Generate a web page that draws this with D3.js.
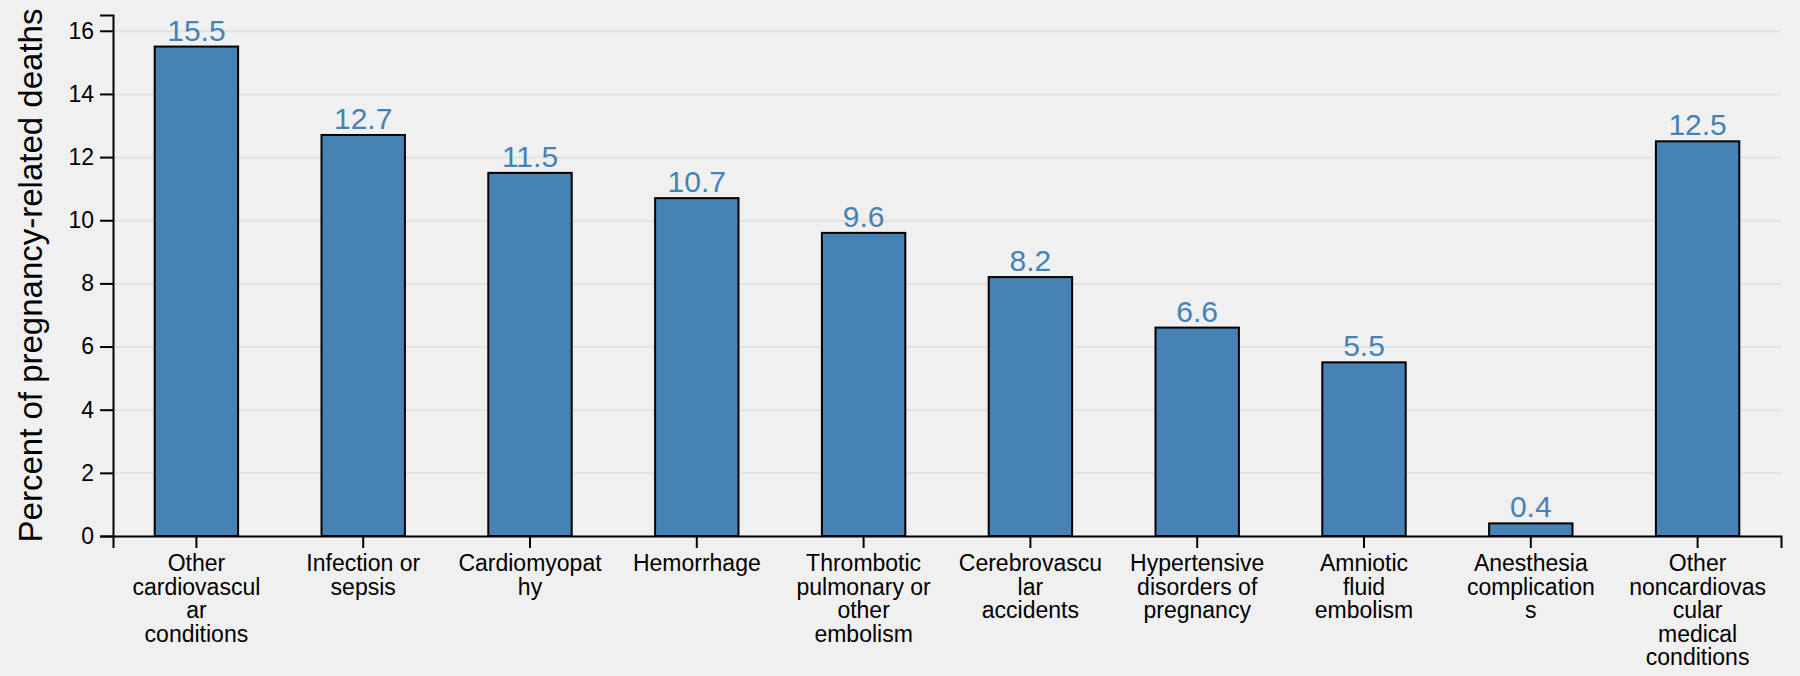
<!DOCTYPE html>
<html>
<head>
<meta charset="utf-8">
<script src="https://cdn.jsdelivr.net/npm/d3@7"></script>
<style>
  html, body { margin: 0; padding: 0; background: #f0f0f0; }
  svg { display: block; font-family: "Liberation Sans", Arial, Helvetica, sans-serif; }
  .grid line { stroke: #e2e2e2; stroke-width: 2; }
  .grid .domain { display: none; }
  .axis path, .axis line { stroke: #000; stroke-width: 2; }
  .axis text { fill: #000; font-size: 23px; }
  .bar { fill: steelblue; stroke: #000; stroke-width: 2; }
  .label { fill: steelblue; font-size: 30px; text-anchor: middle; }
</style>
</head>
<body>
<svg id="chart" width="1800" height="676"></svg>
<script>
// data
var categories = [
  "Other cardiovascular conditions",
  "Infection or sepsis",
  "Cardiomyopathy",
  "Hemorrhage",
  "Thrombotic pulmonary or other embolism",
  "Cerebrovascular accidents",
  "Hypertensive disorders of pregnancy",
  "Amniotic fluid embolism",
  "Anesthesia complications",
  "Other noncardiovascular medical conditions"
];
var values = [15.5, 12.7, 11.5, 10.7, 9.6, 8.2, 6.6, 5.5, 0.4, 12.5];
// tick labels as they were wrapped in the original
var tickLines = [
  ["Other", "cardiovascul", "ar", "conditions"],
  ["Infection or", "sepsis"],
  ["Cardiomyopat", "hy"],
  ["Hemorrhage"],
  ["Thrombotic", "pulmonary or", "other", "embolism"],
  ["Cerebrovascu", "lar", "accidents"],
  ["Hypertensive", "disorders of", "pregnancy"],
  ["Amniotic", "fluid", "embolism"],
  ["Anesthesia", "complication", "s"],
  ["Other", "noncardiovas", "cular", "medical", "conditions"]
];
var yTicks = [0, 2, 4, 6, 8, 10, 12, 14, 16];
var yMax = 16.5;
var yLabel = "Percent of pregnancy-related deaths";

var margins = {top: 15, right: 19, bottom: 140, left: 113};
var svg = d3.select("#chart");
var width = +svg.attr("width") - margins.left - margins.right,
    height = +svg.attr("height") - margins.top - margins.bottom;

var x = d3.scaleBand().domain(categories).range([0, width]).paddingInner(0.5).paddingOuter(0.25),
    y = d3.scaleLinear().domain([0, yMax]).range([height, 0]);

var g = svg.append("g")
    .attr("transform", "translate(" + margins.left + "," + margins.top + ")");

// horizontal gridlines
g.append("g")
    .attr("class", "grid")
    .call(d3.axisLeft(y).tickValues(yTicks).tickSize(-width).tickFormat(""));

g.selectAll(".bar")
  .data(values)
  .enter().append("rect")
    .attr("class", "bar")
    .attr("x", function(d, i) { return x(categories[i]); })
    .attr("y", function(d) { return y(d); })
    .attr("width", x.bandwidth())
    .attr("height", function(d) { return height - y(d); });

g.selectAll(".label")
  .data(values)
  .enter().append("text")
    .attr("class", "label")
    .attr("x", function(d, i) { return x(categories[i]) + x.bandwidth() / 2; })
    .attr("y", function(d) { return y(d) - 6; })
    .text(function(d) { return d3.format(".1f")(d); });

var xAxis = g.append("g")
    .attr("class", "axis axis--x")
    .attr("transform", "translate(0," + height + ")")
    .call(d3.axisBottom(x).tickSize(12).tickPadding(7));

xAxis.selectAll(".tick text").each(function(d) {
  var text = d3.select(this),
      lines = tickLines[categories.indexOf(d)],
      dy = parseFloat(text.attr("dy"));
  text.text(null);
  lines.forEach(function(line, i) {
    text.append("tspan")
        .attr("x", 0)
        .attr("dy", (i === 0 ? dy : 1.02) + "em")
        .text(line);
  });
});

g.append("g")
    .attr("class", "axis axis--y")
    .call(d3.axisLeft(y).tickValues(yTicks).tickSize(13).tickPadding(6));

g.append("text")
    .attr("transform", "rotate(-90)")
    .attr("x", 0 - height / 2)
    .attr("y", 42 - margins.left)
    .style("text-anchor", "middle")
    .style("font-size", "33px")
    .text(yLabel);
</script>
</body>
</html>
